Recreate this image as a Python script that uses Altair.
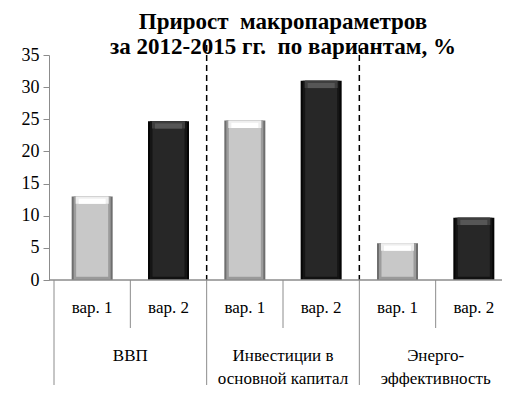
import altair as alt
import pandas as pd

groups = ["ВВП", "Инвестиции в\nосновной капитал", "Энерго-\nэффективность"]
variants = ["вар. 1", "вар. 2"]
values = [13.0, 24.7, 24.8, 31.0, 5.7, 9.7]
y_ticks = [0, 5, 10, 15, 20, 25, 30, 35]
title_lines = ["Прирост\u00a0 макропараметров", "за 2012-2015 гг.\u00a0 по вариантам, %"]

W, H = 468, 225
FONT = "'Liberation Serif', 'Times New Roman', 'DejaVu Serif', serif"

rows = []
for gi, g in enumerate(groups):
    for vi, v in enumerate(variants):
        i = gi * 2 + vi
        rows.append({"group": g, "variant": v, "value": values[i], "pos": i + 0.5, "vi": vi})
df = pd.DataFrame(rows)
gdf = pd.DataFrame({"group": groups, "pos": [1.0, 3.0, 5.0]})
sep_short = pd.DataFrame({"pos": [1.0, 3.0, 5.0]})
sep_long = pd.DataFrame({"pos": [0.0, 2.0, 4.0]})
sep_dash = pd.DataFrame({"pos": [2.0, 4.0]})

xs = alt.Scale(domain=[0, 6], nice=False, zero=False)
ys = alt.Scale(domain=[0, 35], nice=False)
X = alt.X("pos:Q", scale=xs, axis=None)
YAX = alt.Axis(values=y_ticks, grid=False, tickSize=6, tickColor="#8c8c8c",
               domainColor="#8c8c8c", labelFont=FONT, labelFontSize=18,
               labelColor="black", labelPadding=4, title=None)

base = alt.Chart(df).transform_calculate(zero="0", cap="datum.value - 1.15", cap2="datum.value - 0.35",
                                         bot="0.5")

body_steps = [(41, "#6e6e6e", "#050505"), (37, "#9c9c9c", "#151515"), (32, "#c8c8c8", "#272727")]

layers = []
for vi in [0, 1]:
    b = base.transform_filter(alt.datum.vi == vi)
    for size, lc, dc in body_steps:
        layers.append(b.mark_bar(size=size, color=lc if vi == 0 else dc).encode(
            x=X, y=alt.Y("value:Q", scale=ys, axis=YAX), y2="zero:Q"))
    layers.append(b.mark_bar(size=33, color="#eeeeee" if vi == 0 else "#3e3e3e").encode(
        x=X, y=alt.Y("value:Q", scale=ys, axis=YAX), y2="cap:Q"))
    layers.append(b.mark_bar(size=27, color="#ffffff" if vi == 0 else "#565656").encode(
        x=X, y=alt.Y("cap2:Q", scale=ys, axis=YAX), y2="cap:Q"))
    layers.append(b.mark_bar(size=34, color="#9a9a9a" if vi == 0 else "#121212").encode(
        x=X, y=alt.Y("bot:Q", scale=ys, axis=YAX), y2="zero:Q"))

dashed = alt.Chart(sep_dash).mark_rule(color="black", strokeWidth=1.5, strokeDash=[6, 4]).encode(
    x=X, y=alt.value(-10), y2=alt.value(H))
xline = alt.Chart(sep_dash).mark_rule(color="#8c8c8c").encode(
    x=alt.value(0), x2=alt.value(453), y=alt.value(H))
short = alt.Chart(sep_short).mark_rule(color="#8c8c8c").encode(
    x=X, y=alt.value(H), y2=alt.value(H + 48))
long_ = alt.Chart(sep_long).mark_rule(color="#8c8c8c").encode(
    x=X, y=alt.value(H), y2=alt.value(H + 105))
vlabels = alt.Chart(df).mark_text(font=FONT, fontSize=17, color="black", baseline="alphabetic").encode(
    x=X, y=alt.value(H + 33), text="variant:N")
glabels = alt.Chart(gdf).mark_text(font=FONT, fontSize=17, color="black", baseline="alphabetic",
                                   lineBreak="\n", lineHeight=23).encode(
    x=X, y=alt.value(H + 81), text="group:N")

chart = alt.layer(*layers, dashed, xline, short, long_, vlabels, glabels).properties(
    width=W, height=H,
    title=alt.TitleParams(title_lines,
                          font=FONT, fontSize=23, fontWeight="bold", color="black",
                          lineHeight=25, anchor="middle", offset=4, dy=19),
    padding={"left": 41, "top": 47, "right": 4, "bottom": 107},
    autosize=alt.AutoSizeParams(type="none"),
).configure_view(stroke=None).configure_axis(labelFont=FONT, labelFontSize=18, labelColor="black")

chart.save("out.html", embed_options={"renderer": "svg", "actions": False})
